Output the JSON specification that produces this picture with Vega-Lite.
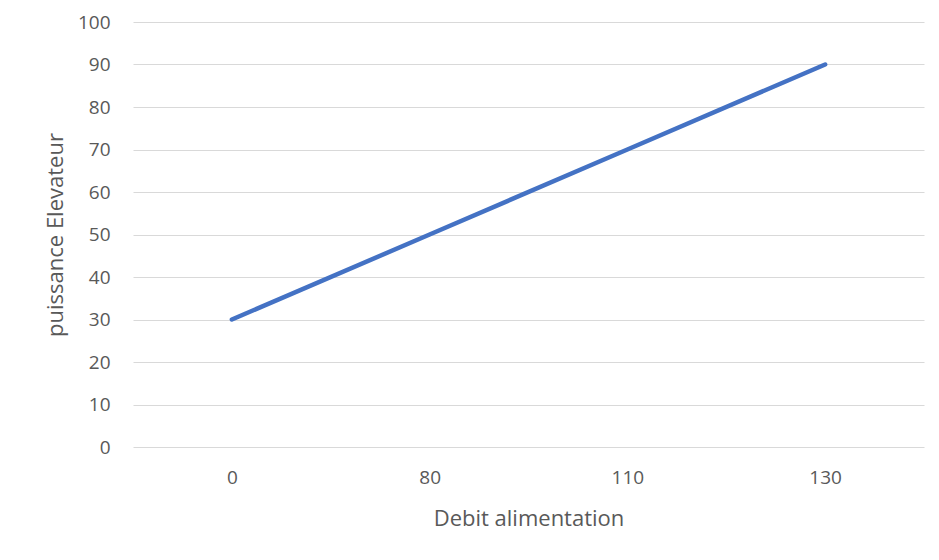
{
  "$schema": "https://vega.github.io/schema/vega-lite/v6.json",
  "autosize": "none",
  "width": 791,
  "height": 425,
  "padding": {"left": 133, "top": 22, "right": 15, "bottom": 113},
  "background": "white",
  "config": {
    "view": {"stroke": null},
    "font": "Open Sans",
    "axis": {"labelColor": "#595959", "titleColor": "#595959", "labelFont": "Open Sans", "titleFont": "Open Sans", "labelFontSize": 19, "titleFontSize": 22, "titleFontWeight": "normal"}
  },
  "data": {"values": [
    {"debit": "0", "puissance": 30},
    {"debit": "80", "puissance": 50},
    {"debit": "110", "puissance": 70},
    {"debit": "130", "puissance": 90}
  ]},
  "mark": {"type": "line", "color": "#4472C4", "strokeWidth": 4.5, "strokeCap": "round"},
  "encoding": {
    "x": {"field": "debit", "type": "ordinal", "sort": null, "title": "Debit alimentation",
      "scale": {"type": "point", "padding": 0.5},
      "axis": {"labelAngle": 0, "domain": false, "ticks": false, "grid": false, "labelPadding": 21, "titlePadding": 21}},
    "y": {"field": "puissance", "type": "quantitative", "title": "puissance Elevateur",
      "scale": {"domain": [0, 100]},
      "axis": {"values": [0,10,20,30,40,50,60,70,80,90,100], "domain": false, "ticks": false, "gridColor": "#D9D9D9", "gridWidth": 1, "labelPadding": 23, "titlePadding": 10}}
  }
}
